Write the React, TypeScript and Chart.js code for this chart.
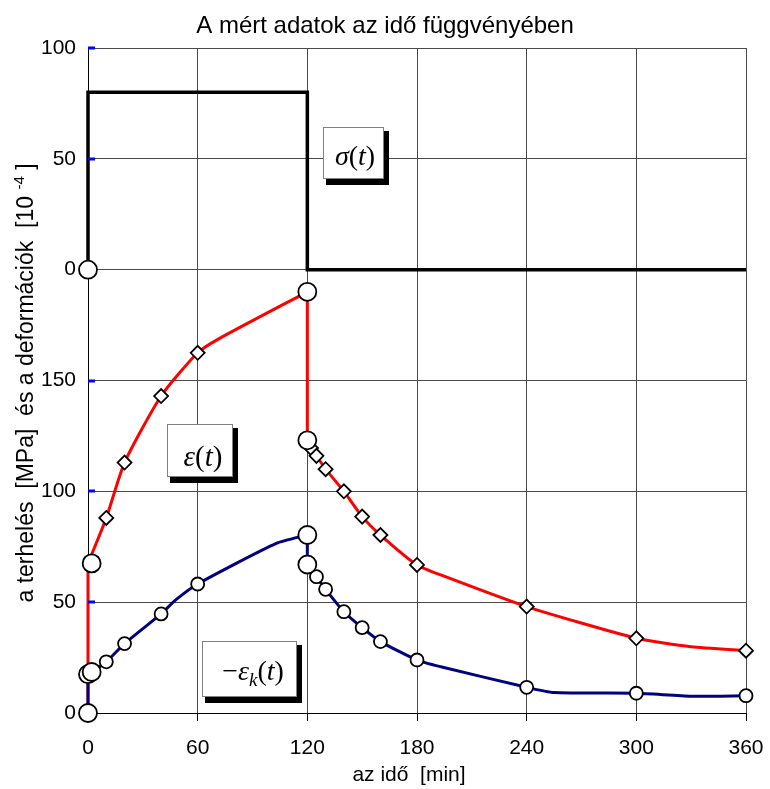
import React, { useEffect, useRef } from 'react';
import { Chart, registerables } from 'chart.js';

Chart.register(...registerables);

const SANS = '"Liberation Sans", Arial, Helvetica, sans-serif';
const SERIF = '"Liberation Serif", "Times New Roman", serif';

// Left axis: deformation 0..150 [10^-4] in the lower part, stress 0..100 MPa on top
const yTickLabels = ['0', '50', '100', '150', '0', '50', '100'];
const xTickStep = 60;

// Applied stress σ(t) [MPa]
const sigmaTime = [0, 0, 120, 120, 360];
const sigmaMPa = [0, 80, 80, 0, 0];
const sigmaMarkTime = [0];
const sigmaMarkMPa = [0];

// Total strain ε(t) [10^-4]
const epsRiseTime = [0, 10, 20, 40, 60, 72, 120];
const epsRise = [67.5, 88, 113, 143, 162.5, 169, 190];
const epsFallTime = [120, 122, 125, 130, 140, 150, 160, 180, 193, 240, 300, 330, 360];
const epsFall = [123, 119.5, 116, 110, 100, 88.6, 80.3, 66.8, 62.3, 48, 33.7, 29.9, 28.1];
const epsMarkedTimes = [10, 20, 40, 60, 122, 125, 130, 140, 150, 160, 180, 240, 300, 360];

// Transverse strain −εk(t) [10^-4]
const ekRiseTime = [0, 2, 10, 20, 40, 48, 60, 103, 120];
const ekRise = [17.5, 18.5, 23.1, 31.3, 44.7, 51, 58.2, 76.5, 80.3];
const ekFallTime = [120, 125, 130, 140, 150, 160, 180, 193, 240, 255, 300, 330, 360];
const ekFall = [67, 61.5, 55.8, 45.7, 38.5, 32.2, 23.9, 20.9, 11.6, 9.2, 8.9, 7.6, 7.8];
const ekMarkedTimes = [10, 20, 40, 60, 125, 130, 140, 150, 160, 180, 240, 300, 360];

// Instantaneous (jump) values at loading and unloading
const jumpTime = [0, 0, 2, 2, 120, 120, 120, 120];
const jumpValue = [0, 17.5, 18.5, 67.5, 190, 123, 80.3, 67];

const pts = (xs: number[], ys: number[]) => xs.map((x, i) => ({ x, y: ys[i] }));
const marked = (xs: number[], ys: number[], keep: number[]) =>
  pts(xs, ys).filter((p) => keep.includes(p.x));
const firstLast = (xs: number[], ys: number[], which: 'first' | 'last') => {
  const i = which === 'first' ? 0 : xs.length - 1;
  return { x: xs[i], y: ys[i] };
};

type Run = { t: string; italic?: boolean; size: number; dy?: number };

function drawRuns(ctx: CanvasRenderingContext2D, runs: Run[], cx: number, baseline: number) {
  const font = (r: Run) => `${r.italic ? 'italic ' : ''}${r.size}px ${SERIF}`;
  let total = 0;
  const widths = runs.map((r) => {
    ctx.font = font(r);
    const w = ctx.measureText(r.t).width;
    total += w;
    return w;
  });
  let x = cx - total / 2;
  ctx.textAlign = 'left';
  ctx.textBaseline = 'alphabetic';
  runs.forEach((r, i) => {
    ctx.font = font(r);
    ctx.fillText(r.t, x, baseline + (r.dy || 0));
    x += widths[i];
  });
}

function drawLabelBox(ctx: CanvasRenderingContext2D, x: number, y: number, w: number, h: number) {
  ctx.fillStyle = '#000';
  ctx.fillRect(x + 3, y + 4, w + 3, h + 3);
  ctx.fillStyle = '#fff';
  ctx.fillRect(x, y, w, h);
  ctx.strokeStyle = '#808080';
  ctx.lineWidth = 1;
  ctx.strokeRect(x + 0.5, y + 0.5, w, h);
}

const decorPlugin = {
  id: 'decor',
  afterDatasetDraw(chart: any, args: any) {
    const ds = chart.data.datasets[args.index];
    if (!ds.axisMarksAfter) return;
    const ctx = chart.ctx as CanvasRenderingContext2D;
    const ys = chart.scales.y;
    const left = chart.chartArea.left;
    ctx.save();
    ctx.fillStyle = '#0000ff';
    ys.ticks.forEach((t: any) => {
      const py = ys.getPixelForValue(t.value);
      ctx.fillRect(left, Math.round(py) - 1.5, 7, 3);
    });
    ctx.restore();
  },
  afterDraw(chart: any) {
    const ctx = chart.ctx as CanvasRenderingContext2D;
    ctx.save();
    ctx.fillStyle = '#000';

    // chart title
    ctx.font = `24px ${SANS}`;
    ctx.textAlign = 'center';
    ctx.textBaseline = 'alphabetic';
    ctx.fillText('A mért adatok az idő függvényében', 385, 33);

    // x axis title
    ctx.font = `21px ${SANS}`;
    ctx.fillText('az idő  [min]', 409, 781);

    // y axis title with superscript exponent
    ctx.translate(33, 383);
    ctx.rotate(-Math.PI / 2);
    const main = 'a terhelés  [MPa]  és a deformációk  [10 ';
    const sup = '-4';
    const tail = ' ]';
    ctx.font = `23px ${SANS}`;
    const wMain = ctx.measureText(main).width;
    const wTail = ctx.measureText(tail).width;
    ctx.font = `15px ${SANS}`;
    const wSup = ctx.measureText(sup).width;
    let x = -(wMain + wSup + wTail) / 2;
    ctx.textAlign = 'left';
    ctx.font = `23px ${SANS}`;
    ctx.fillText(main, x, 0);
    x += wMain;
    ctx.font = `15px ${SANS}`;
    ctx.fillText(sup, x, -9);
    x += wSup;
    ctx.font = `23px ${SANS}`;
    ctx.fillText(tail, x, 0);
    ctx.restore();

    // series labels
    ctx.save();
    ctx.fillStyle = '#000';
    drawLabelBox(ctx, 323, 127, 60, 51);
    ctx.fillStyle = '#000';
    drawRuns(ctx, [
      { t: 'σ', italic: true, size: 28 },
      { t: '(', size: 28 },
      { t: 't', italic: true, size: 28 },
      { t: ')', size: 28 },
    ], 355, 165);

    drawLabelBox(ctx, 167, 424, 65, 52);
    ctx.fillStyle = '#000';
    drawRuns(ctx, [
      { t: 'ε', italic: true, size: 29 },
      { t: '(', size: 29 },
      { t: 't', italic: true, size: 29 },
      { t: ')', size: 29 },
    ], 203, 466);

    drawLabelBox(ctx, 202, 641, 94, 55);
    ctx.fillStyle = '#000';
    drawRuns(ctx, [
      { t: '−', size: 28 },
      { t: 'ε', italic: true, size: 28 },
      { t: 'k', italic: true, size: 19, dy: 6 },
      { t: '(', size: 28 },
      { t: 't', italic: true, size: 28 },
      { t: ')', size: 28 },
    ], 253, 680);
    ctx.restore();
  },
};

export default function App() {
  const ref = useRef<HTMLCanvasElement | null>(null);

  useEffect(() => {
    if (!ref.current) return;
    const markerBase = {
      showLine: false,
      pointBackgroundColor: '#fff',
      pointBorderColor: '#000',
      pointBorderWidth: 1.8,
      clip: false as const,
    };
    const lineBase = {
      showLine: true,
      pointRadius: 0,
      borderWidth: 3,
      clip: false as const,
      borderCapStyle: 'round' as const,
      borderJoinStyle: 'round' as const,
    };
    const red = '#ff0000';
    const navy = '#000080';
    const smooth = 0.2;

    const chart = new Chart(ref.current, {
      type: 'scatter',
      data: {
        datasets: [
          // markers (drawn on top)
          { ...markerBase, data: pts(jumpTime, jumpValue), pointRadius: 9, order: 0 },
          { ...markerBase, data: pts(sigmaMarkTime, sigmaMarkMPa), yAxisID: 'y2', pointRadius: 9, order: 0 },
          { ...markerBase, data: marked(ekRiseTime, ekRise, ekMarkedTimes).concat(marked(ekFallTime, ekFall, ekMarkedTimes)), pointRadius: 6.5, order: 1 },
          { ...markerBase, data: marked(epsRiseTime, epsRise, epsMarkedTimes).concat(marked(epsFallTime, epsFall, epsMarkedTimes)), pointStyle: 'rectRot', pointRadius: 7, order: 2 },
          // −εk(t) lines
          { ...lineBase, borderColor: navy, data: [{ x: 0, y: 0 }, firstLast(ekRiseTime, ekRise, 'first')], order: 5, axisMarksAfter: true } as any,
          { ...lineBase, borderColor: navy, data: pts(ekRiseTime, ekRise), tension: smooth, order: 6 },
          { ...lineBase, borderColor: navy, data: [firstLast(ekRiseTime, ekRise, 'last'), firstLast(ekFallTime, ekFall, 'first')], order: 6 },
          { ...lineBase, borderColor: navy, data: pts(ekFallTime, ekFall), tension: smooth, order: 6 },
          // ε(t) lines
          { ...lineBase, borderColor: red, data: [{ x: 0, y: 0 }, firstLast(epsRiseTime, epsRise, 'first')], order: 7 },
          { ...lineBase, borderColor: red, data: pts(epsRiseTime, epsRise), tension: smooth, order: 7 },
          { ...lineBase, borderColor: red, data: [firstLast(epsRiseTime, epsRise, 'last'), firstLast(epsFallTime, epsFall, 'first')], order: 7 },
          { ...lineBase, borderColor: red, data: pts(epsFallTime, epsFall), tension: smooth, order: 7 },
          // σ(t)
          { ...lineBase, borderColor: '#000', borderWidth: 3.5, borderCapStyle: 'butt', borderJoinStyle: 'miter', data: pts(sigmaTime, sigmaMPa), yAxisID: 'y2', order: 8 },
        ],
      },
      options: {
        responsive: false,
        animation: false,
        events: [],
        layout: { padding: { left: 0, right: 24, top: 48, bottom: 0 } },
        plugins: { legend: { display: false }, tooltip: { enabled: false }, title: { display: false } },
        scales: {
          x: {
            type: 'linear',
            min: 0,
            max: 360,
            ticks: { stepSize: xTickStep, color: '#000', font: { family: SANS, size: 21 }, padding: 15, maxRotation: 0, autoSkip: false },
            grid: { color: '#4a4a4a', lineWidth: 1, drawTicks: true, tickLength: 8, tickColor: '#000' },
            border: { color: '#000', width: 1 },
            afterFit: (s: any) => {
              s.height = 76;
              s.paddingLeft = 0;
              s.paddingRight = 0;
            },
          },
          y: {
            type: 'linear',
            min: 0,
            max: 300,
            ticks: { stepSize: 50, color: '#000', font: { family: SANS, size: 21 }, padding: 12, callback: (_v: any, i: number) => yTickLabels[i] },
            grid: { color: '#4a4a4a', lineWidth: 1, drawTicks: false },
            border: { color: '#000', width: 1 },
            afterFit: (s: any) => {
              s.width = 88;
              s.paddingTop = 0;
              s.paddingBottom = 0;
            },
          },
          y2: { type: 'linear', display: false, min: -200, max: 100 },
        },
      },
      plugins: [decorPlugin],
    });
    return () => chart.destroy();
  }, []);

  return (
    <div style={{ position: 'absolute', left: 0, top: 0, width: 770, height: 789, background: '#fff' }}>
      <canvas ref={ref} width={770} height={789} style={{ display: 'block' }} />
    </div>
  );
}
